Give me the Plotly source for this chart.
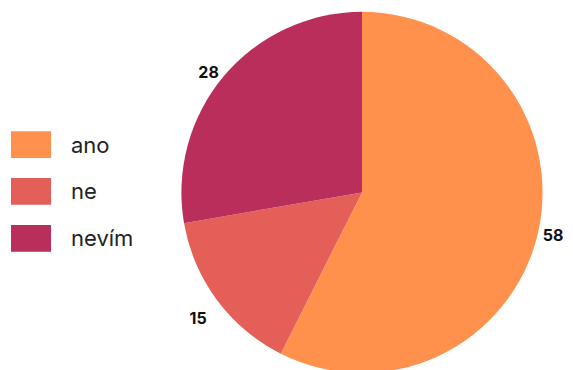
import plotly.graph_objects as go

categories = ["ano", "ne", "nevím"]
values = [58, 15, 28]
colors = ["#FF914D", "#E45F58", "#B92E5A"]
label_templates = ["%{value}", " <br>%{value}", "%{value}"]

W, H = 573, 378
cx, cy, r = 362, 195, 183

fig = go.Figure(go.Pie(
    labels=categories,
    values=values,
    sort=False,
    direction="clockwise",
    rotation=0,
    marker=dict(colors=colors, line=dict(width=0)),
    texttemplate=label_templates,
    textposition="outside",
    outsidetextfont=dict(family="Inter, sans-serif", size=16, color="#111111", weight="bold"),
    domain=dict(x=[(cx - r) / W, (cx + r) / W],
                y=[1 - (cy + r) / H, 1 - (cy - r) / H]),
    hoverinfo="label+value",
    showlegend=False,
))

# custom legend with large swatches
top0, step, sw_h = 133, 47.5, 27
for i, (cat, col) in enumerate(zip(categories, colors)):
    y0 = top0 + i * step
    fig.add_shape(type="rect", xref="paper", yref="paper",
                  x0=11 / W, x1=51 / W, y0=1 - (y0 + sw_h) / H, y1=1 - y0 / H,
                  fillcolor=col, line=dict(width=0))
    fig.add_annotation(xref="paper", yref="paper", x=69 / W, y=1 - (y0 + sw_h / 2) / H,
                       text=cat, showarrow=False, xanchor="left", yanchor="middle",
                       font=dict(family="Inter, sans-serif", size=22, color="#222222"))

fig.update_layout(
    width=W, height=H,
    margin=dict(l=0, r=0, t=0, b=0),
    paper_bgcolor="white",
    plot_bgcolor="white",
)

fig.write_html(
    "out.html",
    config={"displayModeBar": False},
    post_script="document.body.style.margin='0';document.body.style.overflow='hidden';"
                "document.documentElement.style.overflow='hidden';",
)
